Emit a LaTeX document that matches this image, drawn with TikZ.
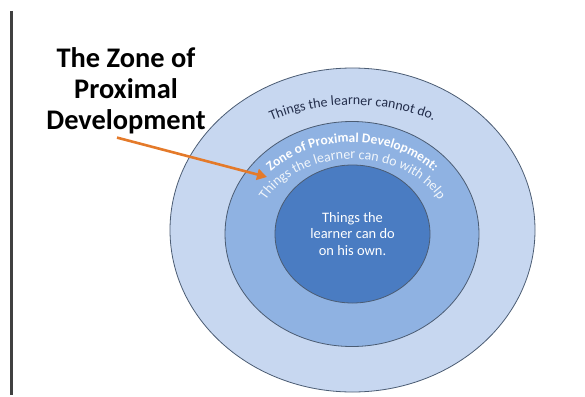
\documentclass[tikz,border=0pt]{standalone}
\usepackage{fontspec}
\setmainfont{Carlito}
\usetikzlibrary{arrows.meta,shapes.geometric,decorations.text}
\definecolor{ringout}{RGB}{199,215,240}
\definecolor{ringmid}{RGB}{143,178,226}
\definecolor{ringin}{RGB}{74,124,194}
\definecolor{ringline}{RGB}{75,92,115}
\definecolor{zpdorange}{RGB}{228,122,42}
\definecolor{darktext}{RGB}{35,45,75}
\tikzset{%
  >={Triangle[width=11bp,length=10bp]},
  % Specifications for style of nodes:
       ring/.style = {ellipse, draw=ringline, line width=0.8bp, inner sep=0pt},
  outerring/.style = {ring, fill=ringout, minimum width=365bp, minimum height=324bp},
    midring/.style = {ring, fill=ringmid, minimum width=254bp, minimum height=225bp},
     inring/.style = {ring, fill=ringin, minimum width=155bp, minimum height=138bp},
      title/.style = {align=center, font=\bfseries\fontsize{28.5}{31}\selectfont},
     intext/.style = {align=center, text=white, font=\fontsize{14.5}{17}\selectfont},
   zpdarrow/.style = {->, draw=zpdorange, fill=zpdorange, line width=2.6bp},
}

\begin{document}
\begin{tikzpicture}[x=1bp, y=1bp]
\useasboundingbox (0,0) rectangle (585,396);

\draw[line width=3bp, draw=black!75] (11.5,385) -- (11.5,1);

\node (outer)  [outerring]  at (352.5,166)  {};
\node (middle) [midring]    at (352,162)    {};
\node (inner)  [inring]     at (352.5,162)  {};

\node (own)    [intext]     at (inner.center) {Things the\\learner can do\\on his own.};

% curved texts in the rings
\path[decorate, decoration={text along path, text align=center,
    text={|\color{darktext}\fontsize{14}{15}\selectfont|Things the learner cannot do.}}]
  ([shift={(165:170bp and 129bp)}]inner.center)
  arc[start angle=165, end angle=15, x radius=170bp, y radius=129bp];

\path[decorate, decoration={text along path, text align=center,
    text={|\color{white}\bfseries\fontsize{13.5}{15}\selectfont|Zone of Proximal Development:}}]
  ([shift={(175:111bp and 92bp)}]inner.center)
  arc[start angle=175, end angle=5, x radius=111bp, y radius=92bp];

\path[decorate, decoration={text along path, text align=center,
    text={|\color{white!88!ringmid}\fontsize{14}{15}\selectfont|Things the learner can do with help}}]
  ([shift={(178:97bp and 75bp)}]inner.center)
  arc[start angle=178, end angle=2, x radius=97bp, y radius=75bp];

\node (title)  [title]      at (126,305)    {The Zone of\\Proximal\\Development};

\coordinate (tip) at (267,219);
\draw[zpdarrow] ([xshift=-9bp]title.south) -- (tip);
\end{tikzpicture}
\end{document}
